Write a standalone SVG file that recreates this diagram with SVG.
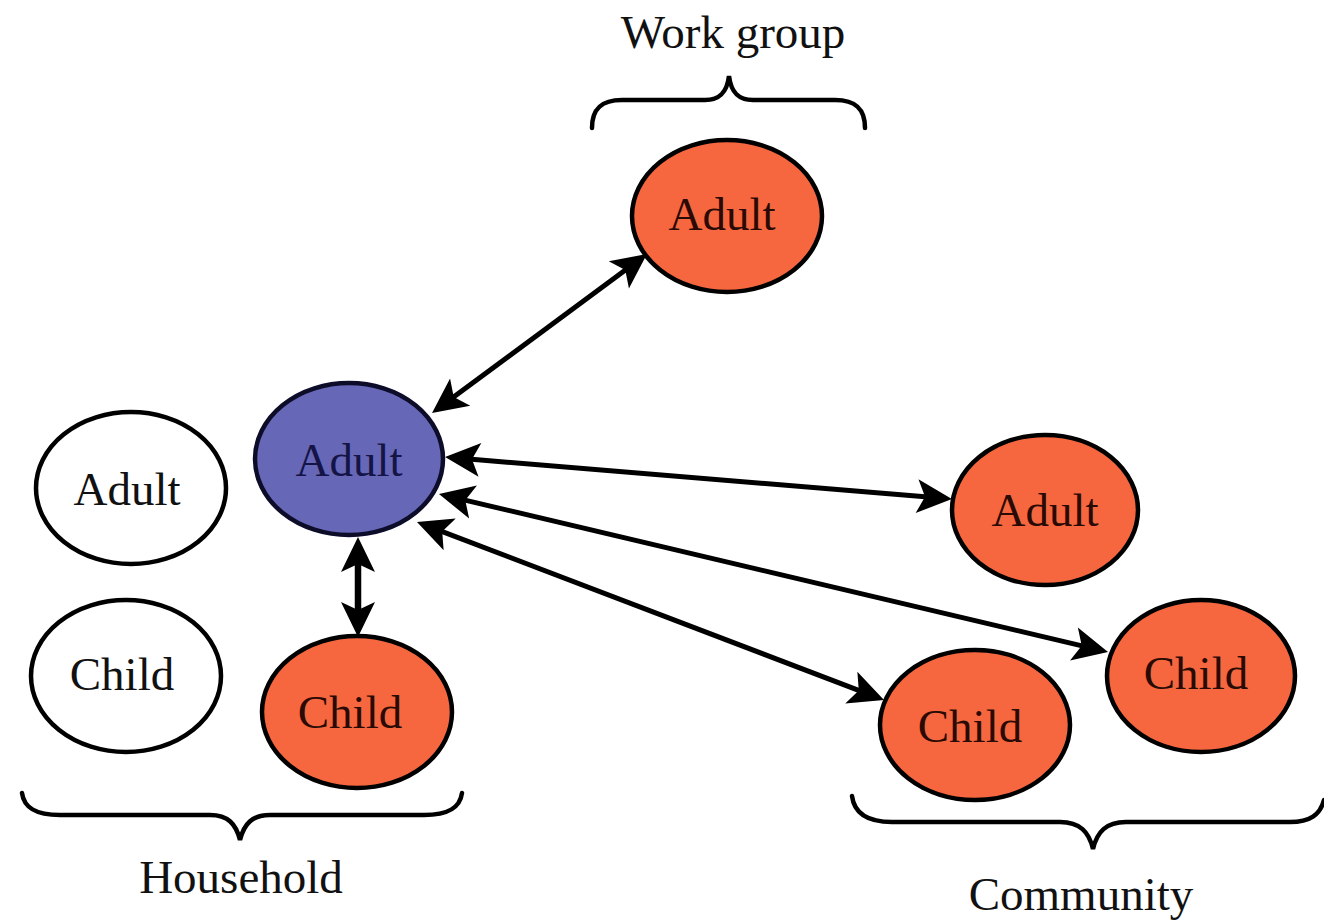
<svg xmlns="http://www.w3.org/2000/svg" width="1324" height="924" viewBox="0 0 1324 924">
<style>
.node{stroke:#000;stroke-width:4.5}
.red{fill:#f7673f}
.blue{fill:#6767b8;stroke:#0d0d2a}
.white{fill:#fff}
.lbl{font-family:"Liberation Serif","Times New Roman",serif;font-size:47px;text-anchor:middle}
.rt{fill:#2a0a04}
.bt{fill:#141446}
.wt{fill:#111}
.conn{stroke:#000;stroke-width:5;fill:none;marker-start:url(#ah);marker-end:url(#ah)}
.thick{stroke-width:6.5}
.brace{stroke:#000;stroke-width:4.5;fill:none;stroke-linecap:round}
</style>
<defs>
<marker id="ah" viewBox="-38 -20 40 40" markerWidth="40" markerHeight="40" refX="-18" refY="0" orient="auto-start-reverse" markerUnits="userSpaceOnUse">
<path d="M0,0 L-35,-17 L-27,0 L-35,17 Z" fill="#000"/>
</marker>
</defs>
<rect width="1324" height="924" fill="#fff"/>
<g id="connectors">
<path class="conn" d="M446.5,402.3 L632.5,264.7"/>
<path class="conn" d="M463,458.5 L934,497.5"/>
<path class="conn" d="M456.5,498.1 L1090.5,647.9"/>
<path class="conn" d="M433.8,528.4 L867.2,693.6"/>
<path class="conn thick" d="M358,555 L358,619"/>
</g>
<g id="node-workgroup-adult">
<ellipse class="node red" cx="727" cy="216" rx="95" ry="76"/>
<text class="lbl rt" x="722" y="230">Adult</text>
</g>
<g id="node-center-adult">
<ellipse class="node blue" cx="349" cy="459" rx="94" ry="76"/>
<text class="lbl bt" x="349" y="476">Adult</text>
</g>
<g id="node-household-adult">
<ellipse class="node white" cx="131" cy="488" rx="95" ry="76"/>
<text class="lbl wt" x="127" y="505">Adult</text>
</g>
<g id="node-household-child-white">
<ellipse class="node white" cx="126" cy="676" rx="95" ry="76"/>
<text class="lbl wt" x="122" y="690">Child</text>
</g>
<g id="node-household-child">
<ellipse class="node red" cx="357" cy="712" rx="95" ry="76"/>
<text class="lbl rt" x="350" y="728">Child</text>
</g>
<g id="node-community-adult">
<ellipse class="node red" cx="1045" cy="510" rx="93" ry="75"/>
<text class="lbl rt" x="1045" y="526">Adult</text>
</g>
<g id="node-community-child-1">
<ellipse class="node red" cx="975" cy="725" rx="95" ry="75"/>
<text class="lbl rt" x="970" y="742">Child</text>
</g>
<g id="node-community-child-2">
<ellipse class="node red" cx="1201" cy="676" rx="94" ry="76"/>
<text class="lbl rt" x="1196" y="689">Child</text>
</g>
<g id="group-workgroup">
<path class="brace" d="M592,128 C592,108 602,100 622,100 L705,100 C720,100 727,92 729,76 C731,92 738,100 753,100 L835,100 C855,100 865,108 865,128"/>
<text class="lbl wt" x="733" y="48">Work group</text>
</g>
<g id="group-household">
<path class="brace" d="M22,793 C24,808 36,815 60,815 L210,815 C228,815 236,824 240,840 C244,824 252,815 270,815 L424,815 C448,815 460,808 462,793"/>
<text class="lbl wt" x="241" y="893">Household</text>
</g>
<g id="group-community">
<path class="brace" d="M852,796 C854,812 866,822 892,822 L1060,822 C1080,822 1089,832 1093,849 C1097,832 1106,822 1126,822 L1290,822 C1310,822 1320,815 1324,800"/>
<text class="lbl wt" x="1081" y="910">Community</text>
</g>
</svg>
